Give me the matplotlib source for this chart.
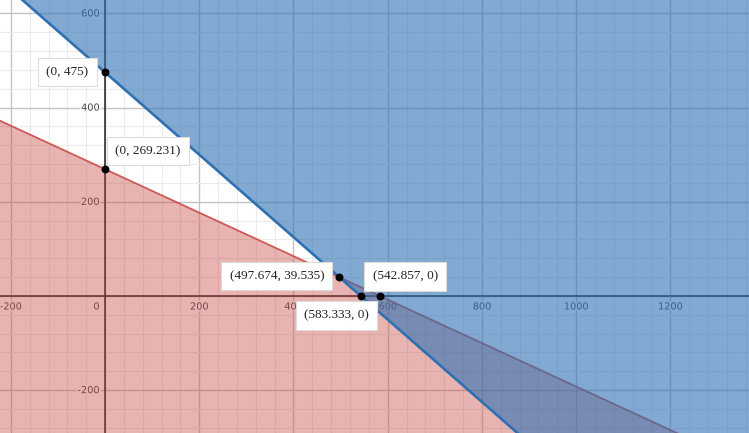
import matplotlib
matplotlib.use("Agg")
import matplotlib.pyplot as plt
import matplotlib.patheffects as pe
import numpy as np

# ---- data ----
blue_points = [(0, 475), (542.857, 0)]
red_points = [(0, 269.231), (583.333, 0)]
intersection = (497.674, 39.535)

marked_x = [0, 0, 497.674, 542.857, 583.333]
marked_y = [475, 269.231, 39.535, 0, 0]
marked_labels = ["(0, 475)", "(0, 269.231)", "(497.674, 39.535)",
                 "(542.857, 0)", "(583.333, 0)"]

x_ticks = [-200, 200, 400, 600, 800, 1000, 1200]
y_ticks = [-200, 200, 400, 600]

xlim = (-223, 1367)
ylim = (-291, 628.5)

# ---- figure ----
fig = plt.figure(figsize=(7.49, 4.33), dpi=100)
ax = fig.add_axes([0, 0, 1, 1])
ax.set_xlim(*xlim)
ax.set_ylim(*ylim)
ax.set_axis_off()
ax.set_facecolor("white")
fig.patch.set_facecolor("white")

# grid
for gx in np.arange(-200, 1400, 40):
    major = (gx % 200 == 0)
    ax.axvline(gx, color="#c4c4c4" if major else "#ebebeb",
               lw=1.0 if major else 0.8, zorder=0)
for gy in np.arange(-280, 640, 40):
    major = (gy % 200 == 0)
    ax.axhline(gy, color="#c4c4c4" if major else "#ebebeb",
               lw=1.0 if major else 0.8, zorder=0)

# axes
ax.axhline(0, color="#222222", lw=1.1, zorder=1)
ax.axvline(0, color="#222222", lw=1.1, zorder=1)

halo = [pe.withStroke(linewidth=2.5, foreground="white")]
for t in x_ticks:
    ax.annotate(str(t), (t, 0), xytext=(0, -4), textcoords="offset points",
                ha="center", va="top", fontsize=7, color="#444444",
                zorder=1.5, path_effects=halo)
for t in y_ticks:
    ax.annotate(str(t), (0, t), xytext=(-4, 0), textcoords="offset points",
                ha="right", va="center", fontsize=7, color="#444444",
                zorder=1.5, path_effects=halo)
ax.annotate("0", (0, 0), xytext=(-4, -4), textcoords="offset points",
            ha="right", va="top", fontsize=7, color="#444444",
            zorder=1.5, path_effects=halo)

# lines from intercepts
def line_from(points):
    (x0, y0), (x1, y1) = points
    m = (y1 - y0) / (x1 - x0)
    b = y0 - m * x0
    return m, b

mb, bb = line_from(blue_points)
mr, br = line_from(red_points)
xs = np.array(xlim)
yb = mb * xs + bb
yr = mr * xs + br

red = "#c74440"
blue = "#2d70b3"

ax.fill_between(xs, ylim[0], yr, color=red, alpha=0.4, lw=0, zorder=2)
ax.plot(xs, yr, color=red, lw=1.3, alpha=0.85, zorder=2.5)
ax.fill_between(xs, yb, ylim[1], color=blue, alpha=0.6, lw=0, zorder=3)
ax.plot(xs, yb, color=blue, lw=1.9, zorder=4)

# points
ax.scatter(marked_x, marked_y, s=22, color="black", zorder=5)

offsets = [(-27, 0), (31, 13), (-45, 1), (32, 14), (-31, -14)]
for x, y, lab, off in zip(marked_x, marked_y, marked_labels, offsets):
    ax.annotate(lab, (x, y), xytext=off, textcoords="offset points",
                ha="center", va="center", fontsize=9.5,
                family=["Liberation Serif", "DejaVu Serif"], color="#222222",
                zorder=6,
                bbox=dict(boxstyle="square,pad=0.62", facecolor="white",
                          edgecolor="#dcdcdc", lw=0.8))

fig.savefig("out.png", dpi=100)
